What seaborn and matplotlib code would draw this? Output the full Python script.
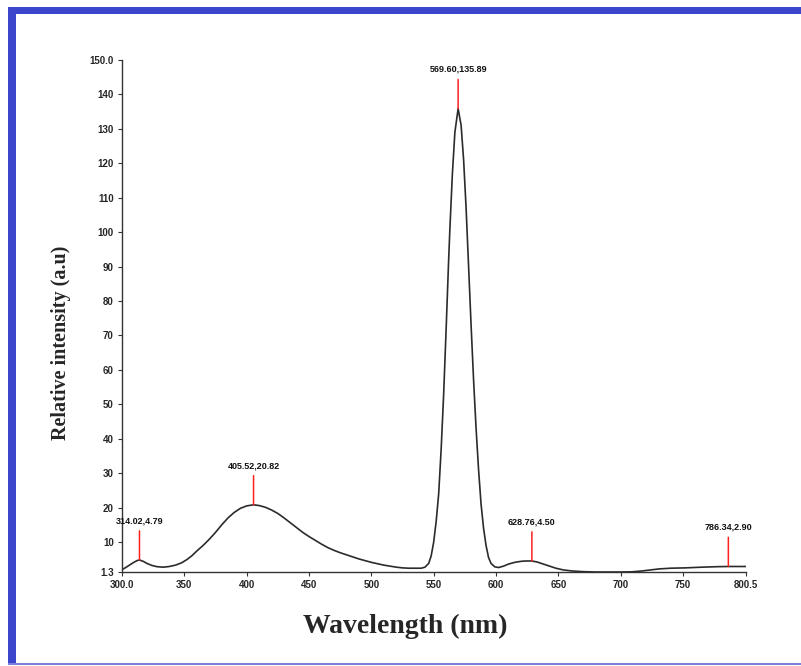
import matplotlib
matplotlib.use("Agg")
import matplotlib.pyplot as plt
from matplotlib.patches import Rectangle
import seaborn as sns
import pandas as pd

# ---- data ----
wavelength = [300, 303, 306, 309, 312, 314.02, 317, 320, 324, 328, 333, 338, 343, 348,
              352, 356, 360, 365, 370, 375, 380, 385, 390, 395, 400, 405.52, 410, 415,
              420, 425, 430, 435, 440, 445, 450, 455, 460, 465, 470, 475, 480, 485, 490,
              495, 500, 505, 510, 515, 520, 525, 530, 535, 540, 543, 546, 548, 550, 552, 554,
              556, 558, 560, 562, 563, 565, 567, 569.6, 572, 574, 576, 578, 580, 582,
              584, 586, 588, 590, 592, 594, 596, 599, 602, 606, 610, 615, 620, 624,
              628.76, 633, 638, 643, 648, 654, 661, 670, 680, 690, 700, 709, 717, 724,
              731, 740, 752, 765, 778, 786.34, 795, 800.5]
intensity = [2.0, 2.6, 3.3, 4.0, 4.6, 4.79, 4.4, 3.8, 3.2, 2.85, 2.7, 2.9, 3.3, 4.0,
             4.9, 6.0, 7.4, 9.0, 10.8, 12.8, 15.0, 17.0, 18.6, 19.8, 20.5, 20.82, 20.6, 20.1,
             19.3, 18.3, 17.0, 15.6, 14.2, 12.8, 11.6, 10.5, 9.4, 8.4, 7.6, 6.9, 6.3, 5.7, 5.1,
             4.6, 4.1, 3.7, 3.3, 3.0, 2.7, 2.5, 2.4, 2.4, 2.4, 2.7, 3.8, 6.0, 10.0, 16.0, 24.0,
             37.0, 53.0, 72.0, 92.0, 101.0, 117.0, 129.0, 135.89, 131.0, 121.0, 107.0, 90.0, 73.0, 57.0,
             43.0, 31.0, 21.0, 14.0, 9.0, 5.5, 3.8, 2.8, 2.6, 3.0, 3.6, 4.1, 4.4, 4.5,
             4.50, 4.2, 3.6, 3.0, 2.4, 1.9, 1.6, 1.4, 1.3, 1.3, 1.3, 1.35, 1.6, 1.9,
             2.2, 2.4, 2.5, 2.7, 2.85, 2.90, 2.9, 2.9]

peak_x = [314.02, 405.52, 569.60, 628.76, 786.34]
peak_y = [4.79, 20.82, 135.89, 4.50, 2.90]
peak_labels = ["314.02,4.79", "405.52,20.82", "569.60,135.89", "628.76,4.50", "786.34,2.90"]

x_ticks = [300.0, 350, 400, 450, 500, 550, 600, 650, 700, 750, 800.5]
x_tick_labels = ["300.0", "350", "400", "450", "500", "550", "600", "650", "700", "750", "800.5"]
y_ticks = [1.3, 10, 20, 30, 40, 50, 60, 70, 80, 90, 100, 110, 120, 130, 140, 150]
y_tick_labels = ["1.3", "10", "20", "30", "40", "50", "60", "70", "80", "90", "100",
                 "110", "120", "130", "140", "150.0"]

df = pd.DataFrame({"Wavelength": wavelength, "Intensity": intensity})

sns.set_style("ticks")
plt.rcParams['font.family'] = ['Liberation Sans', 'DejaVu Sans']

fig = plt.figure(figsize=(8.01, 6.66), dpi=100)
ax = fig.add_axes([122 / 801, 1 - 572 / 666, (746 - 122) / 801, (572 - 60) / 666])

sns.lineplot(data=df, x="Wavelength", y="Intensity", ax=ax, color="#2b2b2b",
             linewidth=1.2, estimator=None, sort=False)

for px, py, lab in zip(peak_x, peak_y, peak_labels):
    ax.annotate("", xy=(px, py), xytext=(0, 21), textcoords="offset points",
                xycoords="data",
                arrowprops=dict(arrowstyle="-", color="#ff2020", lw=1.1,
                                shrinkA=0, shrinkB=0))
    ax.annotate(lab, xy=(px, py), xytext=(0, 25), textcoords="offset points",
                ha="center", va="bottom", fontsize=6.5, fontweight="bold",
                color="#111111")

ax.set_xlim(300, 800.5)
ax.set_ylim(1.3, 150)
ax.set_xticks(x_ticks)
ax.set_xticklabels(x_tick_labels, fontsize=7, fontweight="bold")
ax.set_yticks(y_ticks)
ax.set_yticklabels(y_tick_labels, fontsize=7, fontweight="bold")
ax.tick_params(direction="out", length=3, width=0.8, color="#333333", pad=3)
sns.despine(ax=ax)
for s in ("left", "bottom"):
    ax.spines[s].set_color("#333333")
    ax.spines[s].set_linewidth(1.0)

ax.set_xlabel("Wavelength (nm)", fontsize=20, fontweight="bold",
              family=["Liberation Serif", "DejaVu Serif"])
ax.xaxis.set_label_coords((405 - 122) / 624, -0.082)
ax.set_ylabel("Relative intensity (a.u)", fontsize=14.5, fontweight="bold",
              family=["Liberation Serif", "DejaVu Serif"])
ax.yaxis.set_label_coords(-0.082, (572 - 343) / 512)

# blue frame
blue = "#3c46cc"
fig.add_artist(Rectangle((8 / 801, 2 / 666), 8 / 801, 657 / 666, transform=fig.transFigure,
                         color=blue, lw=0))
fig.add_artist(Rectangle((8 / 801, 652 / 666), 793 / 801, 7 / 666, transform=fig.transFigure,
                         color=blue, lw=0))
fig.add_artist(Rectangle((8 / 801, 1 / 666), 793 / 801, 2 / 666, transform=fig.transFigure,
                         color="#7a80dc", lw=0))

fig.savefig("out.png", dpi=100)
